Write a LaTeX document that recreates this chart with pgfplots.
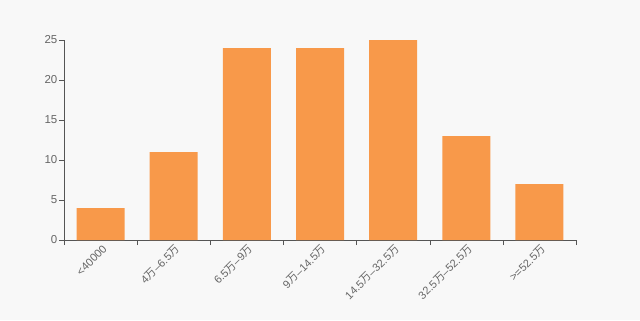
\documentclass[border=0pt]{standalone}
\usepackage{fontspec}
\setmainfont{Liberation Sans}
\newfontfamily\cjk{Noto Sans CJK SC}
\usepackage{pgfplots}
\pgfplotsset{compat=1.18}
\usetikzlibrary{backgrounds}
\definecolor{bg}{HTML}{F8F8F8}
\definecolor{barc}{HTML}{F8994A}
\definecolor{txt}{HTML}{666666}
\definecolor{axl}{HTML}{555555}
\newcommand\w{{\cjk 万}}
\begin{document}
\begin{tikzpicture}
\begin{axis}[
  scale only axis, width=512bp, height=200bp,
  xmin=-0.5, xmax=6.5, ymin=0, ymax=25,
  axis lines=left, axis line style={-, draw=axl},
  /pgf/number format/assume math mode=true,
  ytick={0,5,...,25},
  xtick={-0.5,0.5,...,6.5}, xticklabel=\empty,
  extra x ticks={0,1,2,3,4,5,6},
  extra x tick labels={<40000, 4\w{}–6.5\w, 6.5\w{}–9\w, 9\w{}–14.5\w, 14.5\w{}–32.5\w, 32.5\w{}–52.5\w, >=52.5\w},
  extra x tick style={major tick length=0pt, tick style={draw=none},
    xticklabel style={rotate=45, anchor=east, inner sep=0pt, yshift=-8bp, xshift=-2bp, font=\fontsize{11bp}{13bp}\selectfont}},
  tick align=outside, major tick length=5bp,
  tick style={draw=axl, thin},
  ticklabel style={font=\fontsize{11.5bp}{13bp}\selectfont, text=txt},
  yticklabel style={inner sep=1.5bp},
]
\addplot[ybar, bar width=48bp, fill=barc, draw=none] coordinates {(0,4) (1,11) (2,24) (3,24) (4,25) (5,13) (6,7)};
\end{axis}
\begin{pgfonlayer}{background}
\fill[bg] ([shift={(-64bp,-80bp)}]current axis.south west) rectangle ([shift={(64bp,40bp)}]current axis.north east);
\end{pgfonlayer}
\end{tikzpicture}
\end{document}
